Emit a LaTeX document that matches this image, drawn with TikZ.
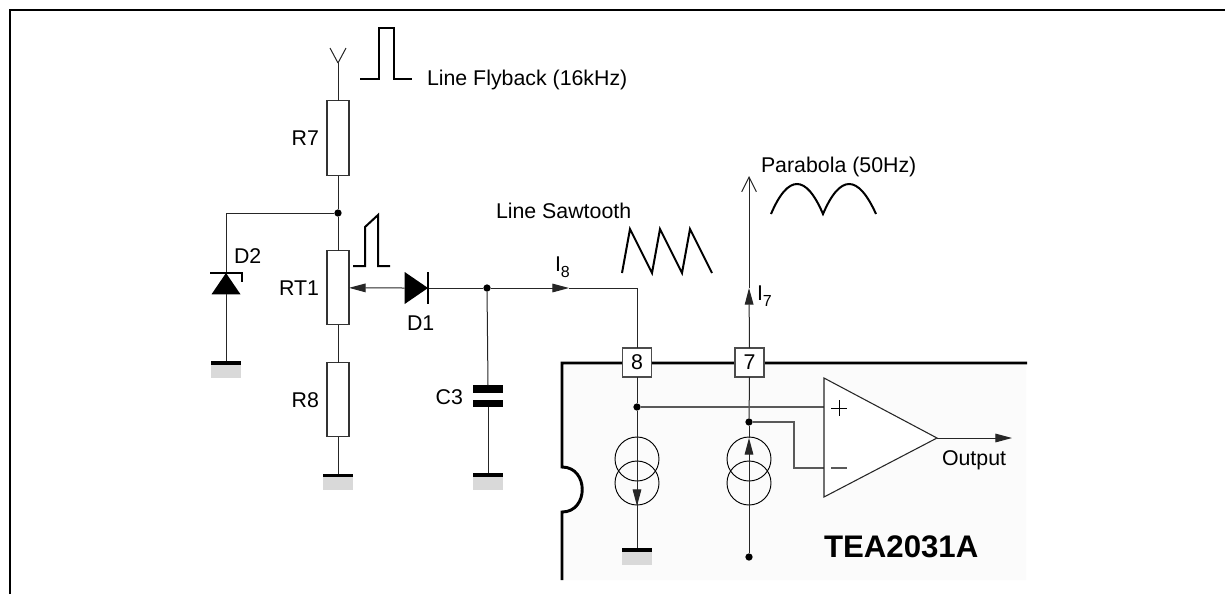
\documentclass[tikz,border=0pt]{standalone}
\usepackage{fontspec}
\setmainfont{Liberation Sans}
\usetikzlibrary{arrows.meta,positioning,shapes.geometric}
\newcommand{\lowsub}[1]{\raisebox{-4.5pt}{\fontsize{12}{12}\selectfont #1}}

\begin{document}
\begin{tikzpicture}[x=0.75pt,y=-0.75pt]
      \tikzstyle{res}=[rectangle, minimum width=16.5pt, minimum height=56pt, inner sep=0pt, outer sep=0pt, line width=0.8pt, draw=black!80]
      \tikzstyle{pinbox}=[rectangle, minimum size=21.75pt, inner sep=0pt, outer sep=0pt, line width=0.8pt, draw=black!70, fill=white, font=\fontsize{16}{18}\selectfont]
      \tikzstyle{dot}=[circle, minimum size=5.5pt, inner sep=0pt, outer sep=0pt, fill=black]
      \tikzstyle{gnd}=[rectangle, fill=black, minimum width=22.5pt, minimum height=2.4pt, inner sep=0pt, outer sep=0pt, label distance=0pt, label={[fill=black!15, minimum width=22.5pt, minimum height=9.7pt, inner sep=0pt, outer sep=0pt]below:{}}]
      \tikzstyle{plate}=[rectangle, fill=black, minimum width=22.5pt, minimum height=5.5pt, inner sep=0pt, outer sep=0pt]
      \tikzstyle{diode}=[isosceles triangle, isosceles triangle stretches, fill=black, inner sep=0pt, outer sep=0pt, anchor=apex]
      \tikzstyle{csrc}=[circle, minimum size=33pt, inner sep=0pt, outer sep=0pt, line width=0.7pt, draw=black]
      \tikzstyle{lbl}=[inner sep=0pt, outer sep=0pt, font=\fontsize{16}{18}\selectfont]
      \tikzstyle{connect}=[line width=0.75pt, draw=black!85]
      \tikzstyle{input}=[line width=1pt, draw=black!65]
      \tikzstyle{flow}=[connect, -{Triangle[length=12.5pt,width=6.5pt]}]
      \tikzstyle{barb}=[connect, -{Straight Barb[length=11pt,width=11pt]}]
      \tikzstyle{wave}=[line width=1.5pt, black, line join=miter]
      \tikzstyle{bar}=[line width=1.7pt, black]
      \tikzstyle{outline}=[line width=2.2pt, black]

      \useasboundingbox (0,0) rectangle (1225,594);

      % chip body first, the rest goes on top of it
      \fill[black!1.5] (562,363) -- (1026,363) -- (1026,580) -- (562,580) -- (562,512)
            .. controls (589,512) and (589,467) .. (562,467) -- cycle;
      \draw[outline] (562,580) -- (562,512) .. controls (589,512) and (589,467) .. (562,467) -- (562,363) -- (1027,363);
      \draw[outline, line width=1.7pt] (10,594) |- (1225,10);

      \node[res, minimum height=56.25pt] (r7) at (338,138) {};
      \node[res, minimum height=55.5pt] (rt1) [below=56.5pt of r7] {};
      \node[res, minimum height=55.5pt] (r8) [below=28.5pt of rt1] {};
      \node[gnd] (gnda) [below=28pt of r8] {};
      \node[dot] (top) at (338,213) {};
      \coordinate (ant) at (338,63);
      \coordinate (antl) at (330,48);
      \coordinate (antr) at (346,48);

      \node[gnd] (gndb) at (226,363) {};
      \node[diode, minimum height=16pt, minimum width=21.75pt, shape border rotate=90] (d2) at (226,273) {};
      \coordinate (d2a) at (210,273);
      \coordinate (d2b) at (242,273);
      \coordinate (d2c) at (242,282);

      \node[diode, minimum height=17.5pt, minimum width=24pt] (d1) at (428,288) {};
      \node[dot] (cjoin) at (487,288) {};
      \node[plate] (c3a) at (488,389) {};
      \node[plate] (c3b) [below=5.5pt of c3a] {};
      \node[gnd] (gndc) at (488,475) {};

      \node[pinbox] (p8) at (637,362.5) {8};
      \node[pinbox] (p7) at (749.5,362.5) {7};
      \coordinate (i8) at (569,288);
      \coordinate (i7) at (749,288);
      \coordinate (para) at (749,176);

      \node[dot] (plus) at (637,407) {};
      \node[dot] (minus) at (749,422) {};
      \node[dot] (foot) at (749,557) {};
      \node[gnd] (gndd) at (637,550) {};
      \coordinate (a8) at (637,506);
      \coordinate (a7) at (749,438);
      \node[csrc] (s8a) at (637,459) {};
      \node[csrc] (s8b) at (637,483) {};
      \node[csrc] (s7a) at (749,459) {};
      \node[csrc] (s7b) at (749,483) {};

      \coordinate (opa) at (824,378);
      \coordinate (opb) at (824,497);
      \coordinate (opc) at (937,438);
      \coordinate (opp) at (824,407);
      \coordinate (opm) at (824,468);
      \coordinate (bend) at (794,422);
      \coordinate (out) at (1012,438);

      \path (ant) edge [connect] (r7.north)
            (r7.south) edge [connect] (top)
            (top) edge [connect] (rt1.north)
            (rt1.south) edge [connect] (r8.north)
            (r8.south) edge [connect] (gnda.north)
            (antl) edge [connect] (ant)
            (antr) edge [connect] (ant);

      \draw[connect] (top) -| (d2.apex);
      \path (d2.lower side) edge [connect] (gndb.north);
      \draw[bar] (d2a) -- (d2b) -- (d2c);

      \path (d1.lower side) edge [flow] (rt1.east)
            (d1.apex) edge [connect] (cjoin)
            (cjoin) edge [connect] (c3a.north)
            (c3b.south) edge [connect] (gndc.north)
            (cjoin) edge [flow] (i8);
      \draw[bar] ([yshift=12pt]d1.apex) -- ([yshift=-12pt]d1.apex);
      \draw[connect] (i8) -| (p8.north);

      \path (p7.north) edge [flow] (i7)
            (i7) edge [barb] (para);

      \path (p8.south) edge [connect] (plus)
            (plus) edge [connect] (gndd.north)
            (plus) edge [flow] (a8)
            (p7.south) edge [connect] (minus)
            (a7) edge [connect] (minus)
            (foot) edge [flow] (a7)
            (plus) edge [input] (opp);
      \draw[input] (minus) -- (bend) |- (opm);

      \draw[line width=0.8pt, draw=black!85, fill=white] (opa) -- (opb) -- (opc) -- cycle;
      \path (opc) edge [flow] (out);
      \draw[line width=0.7pt] (831,408) -- (847,408) (839,400) -- (839,416);
      \draw[input] (831,468) -- (847,468);

      % signal shapes
      \draw[wave] (360,79) -- (379,79) -- (379,28) -- (394,28) -- (394,79) -- (412,79);
      \draw[wave] (353,266) -- (365,266) -- (365,227) -- (378,215) -- (378,266) -- (390,266);
      \draw[wave] (622,273) -- (630,229) -- (652,273) -- (660,229) -- (682,273) -- (690,229) -- (712,273);
      \draw[wave] (771,214) .. controls (788,174) and (806,174) .. (823,214)
            .. controls (840,174) and (858,174) .. (876,214);

      \node[lbl, left=6pt of r7] (r7l) {R7};
      \node[lbl, left=6pt of rt1] (rt1l) {RT1};
      \node[lbl, left=6pt of r8] (r8l) {R8};
      \node[lbl, left=7.5pt of c3a, yshift=-6pt] (c3l) {C3};
      \node[lbl, anchor=base west] (d2l) at (234,263) {D2};
      \node[lbl, anchor=base west] (d1l) at (407,330) {D1};
      \node[lbl, anchor=base west] (fly) at (427,85) {Line Flyback (16kHz)};
      \node[lbl, anchor=base west] (saw) at (496,218) {Line Sawtooth};
      \node[lbl, anchor=base west] (par) at (761,172) {Parabola (50Hz)};
      \node[lbl, anchor=base west] (i8l) at (555,271) {I\lowsub{8}};
      \node[lbl, anchor=base west] (i7l) at (757,300) {I\lowsub{7}};
      \node[lbl, anchor=base west] (outl) at (942,465) {Output};
      \node[lbl, anchor=base west, font=\fontsize{23.4}{26}\selectfont\bfseries] (chip) at (824,557) {TEA2031A};
\end{tikzpicture}
\end{document}
